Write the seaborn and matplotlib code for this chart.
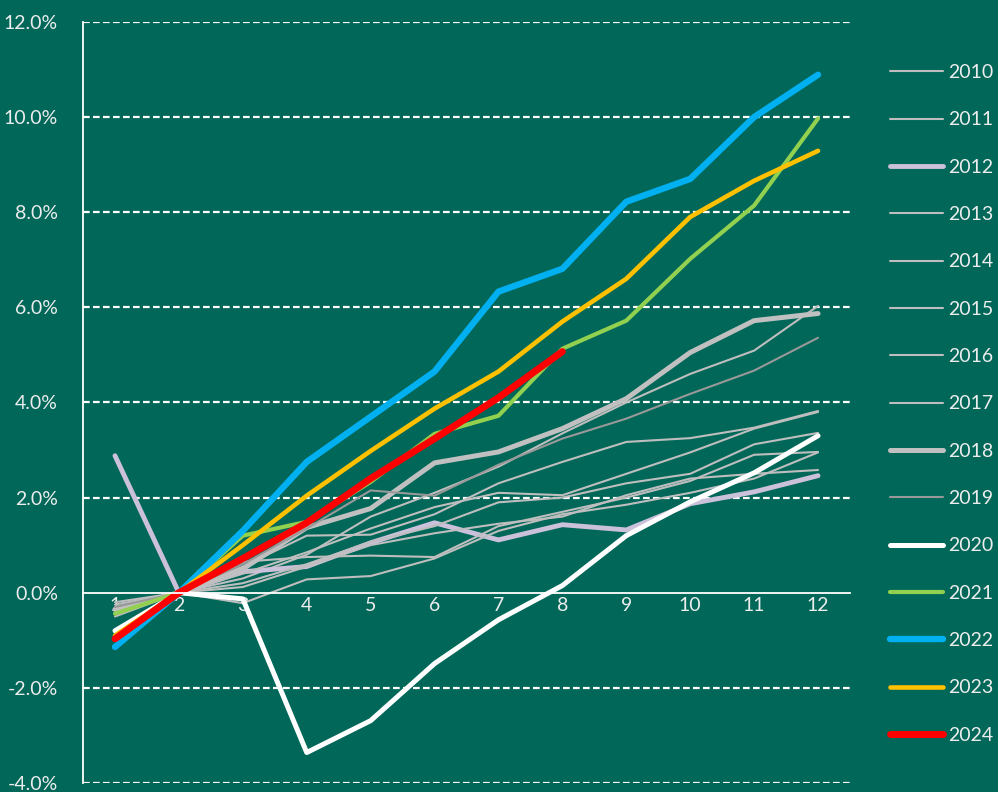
import matplotlib
matplotlib.use("Agg")
import matplotlib.pyplot as plt
import seaborn as sns
import pandas as pd
from matplotlib.ticker import PercentFormatter, FixedLocator

sns.set_style("white")
plt.rcParams['font.family'] = ['Lato', 'DejaVu Sans']
plt.rcParams['axes.unicode_minus'] = False

# 月
months = list(range(1, 13))

# 年ごとの累積変化率(%)
y2010 = [-0.20, 0, 0.30, 0.80, 1.60, 2.10, 2.65, 3.35, 4.00, 4.60, 5.09, 6.03]
y2011 = [-0.30, 0, 0.55, 1.20, 1.22, 1.65, 2.30, 2.75, 3.17, 3.25, 3.47, 3.82]
y2012 = [2.88, 0, 0.44, 0.55, 1.05, 1.47, 1.11, 1.43, 1.32, 1.87, 2.12, 2.46]
y2013 = [-0.45, 0, 0.40, 0.85, 1.35, 1.80, 2.10, 2.05, 2.50, 2.95, 3.45, 3.80]
y2014 = [-0.35, 0, 0.20, 0.60, 1.07, 1.40, 1.90, 2.00, 2.30, 2.50, 3.12, 3.36]
y2015 = [-0.25, 0, 0.65, 0.75, 0.78, 0.75, 1.40, 1.70, 2.00, 2.35, 2.90, 2.96]
y2016 = [-0.40, 0, 0.12, 0.55, 1.00, 1.25, 1.45, 1.60, 2.05, 2.40, 2.50, 2.58]
y2017 = [-0.50, 0, -0.22, 0.28, 0.35, 0.72, 1.30, 1.65, 1.85, 2.10, 2.40, 2.95]
y2018 = [-0.35, 0, 0.50, 1.37, 1.77, 2.73, 2.96, 3.45, 4.08, 5.05, 5.72, 5.87]
y2019 = [-0.30, 0, 0.60, 1.35, 2.15, 2.04, 2.69, 3.24, 3.66, 4.18, 4.67, 5.36]
y2020 = [-0.80, 0, -0.13, -3.36, -2.69, -1.49, -0.57, 0.15, 1.20, 1.91, 2.52, 3.30]
y2021 = [-0.44, 0, 1.20, 1.49, 2.33, 3.34, 3.72, 5.13, 5.72, 7.02, 8.14, 9.97]
y2022 = [-1.14, 0, 1.30, 2.75, 3.70, 4.65, 6.33, 6.81, 8.22, 8.70, 10.00, 10.89]
y2023 = [-0.90, 0, 1.00, 2.04, 2.98, 3.87, 4.65, 5.70, 6.60, 7.90, 8.66, 9.29]
y2024 = [-0.97, 0, 0.72, 1.47, 2.40, 3.24, 4.10, 5.07]

years = ["2010", "2011", "2012", "2013", "2014", "2015", "2016", "2017",
         "2018", "2019", "2020", "2021", "2022", "2023", "2024"]
values = [y2010, y2011, y2012, y2013, y2014, y2015, y2016, y2017,
          y2018, y2019, y2020, y2021, y2022, y2023, y2024]

gray = "#BEBEBE"
colors = {"2010": gray, "2011": gray, "2012": "#CCC1DA", "2013": gray, "2014": gray,
          "2015": gray, "2016": gray, "2017": gray, "2018": "#C0C0C0", "2019": "#999999",
          "2020": "#FFFFFF", "2021": "#92D050", "2022": "#00B0F0", "2023": "#FFC000",
          "2024": "#FF0000"}
widths = {"2012": 3.5, "2018": 3.6, "2019": 1.5, "2020": 3.6, "2021": 3.0,
          "2022": 4.6, "2023": 3.3, "2024": 5.0}

bg = "#006759"
txt = "#EDEDED"

fig = plt.figure(figsize=(9.98, 7.92), dpi=100, facecolor=bg)
ax = fig.add_axes([0.0832, 0.0114, 0.7685, 0.9609])
ax.set_facecolor(bg)

for yr, vals in zip(years, values):
    df = pd.DataFrame({"month": months[:len(vals)], "value": vals})
    sns.lineplot(data=df, x="month", y="value", ax=ax, color=colors[yr],
                 linewidth=widths.get(yr, 1.5), label=yr,
                 solid_capstyle="round", solid_joinstyle="round")

ax.set_xlim(0.5, 12.5)
ax.set_ylim(-4, 12)
ax.set_xlabel("")
ax.set_ylabel("")

# y軸
ax.set_yticks([-4, -2, 0, 2, 4, 6, 8, 10, 12])
ax.yaxis.set_major_formatter(PercentFormatter(decimals=1))
ax.tick_params(axis="y", direction="out", length=6, width=1.3, color="white",
               labelcolor=txt, labelsize=14, pad=12)
for g in [-4, -2, 2, 4, 6, 8, 10, 12]:
    ax.axhline(g, color="white", linewidth=1.6, dashes=(3, 1.5), zorder=0.5)

# x軸(0の位置)
ax.spines["bottom"].set_position(("data", 0))
ax.spines["bottom"].set_color("white")
ax.spines["bottom"].set_linewidth(1.3)
ax.spines["left"].set_color("white")
ax.spines["left"].set_linewidth(1.3)
ax.spines["top"].set_visible(False)
ax.spines["right"].set_visible(False)
ax.xaxis.set_major_locator(FixedLocator([m + 0.5 for m in months]))
ax.xaxis.set_major_formatter(plt.NullFormatter())
ax.xaxis.set_minor_locator(FixedLocator(months))
ax.set_xticklabels([str(m) for m in months], minor=True)
ax.tick_params(axis="x", which="major", direction="out", length=6, width=1.3, color="white")
ax.tick_params(axis="x", which="minor", length=0, pad=3, labelcolor=txt, labelsize=14)

handles, labels = ax.get_legend_handles_labels()
ax.get_legend().remove()
leg = fig.legend(handles, labels, loc="upper left", bbox_to_anchor=(0.892, 0.919),
                 frameon=False, fontsize=14, handlelength=2.7, handletextpad=0.3,
                 labelspacing=1.56, borderpad=0, borderaxespad=0)
for t in leg.get_texts():
    t.set_color(txt)
for h in leg.get_lines():
    h.set_solid_capstyle("round")

fig.savefig("out.png", dpi=100, facecolor=bg)
